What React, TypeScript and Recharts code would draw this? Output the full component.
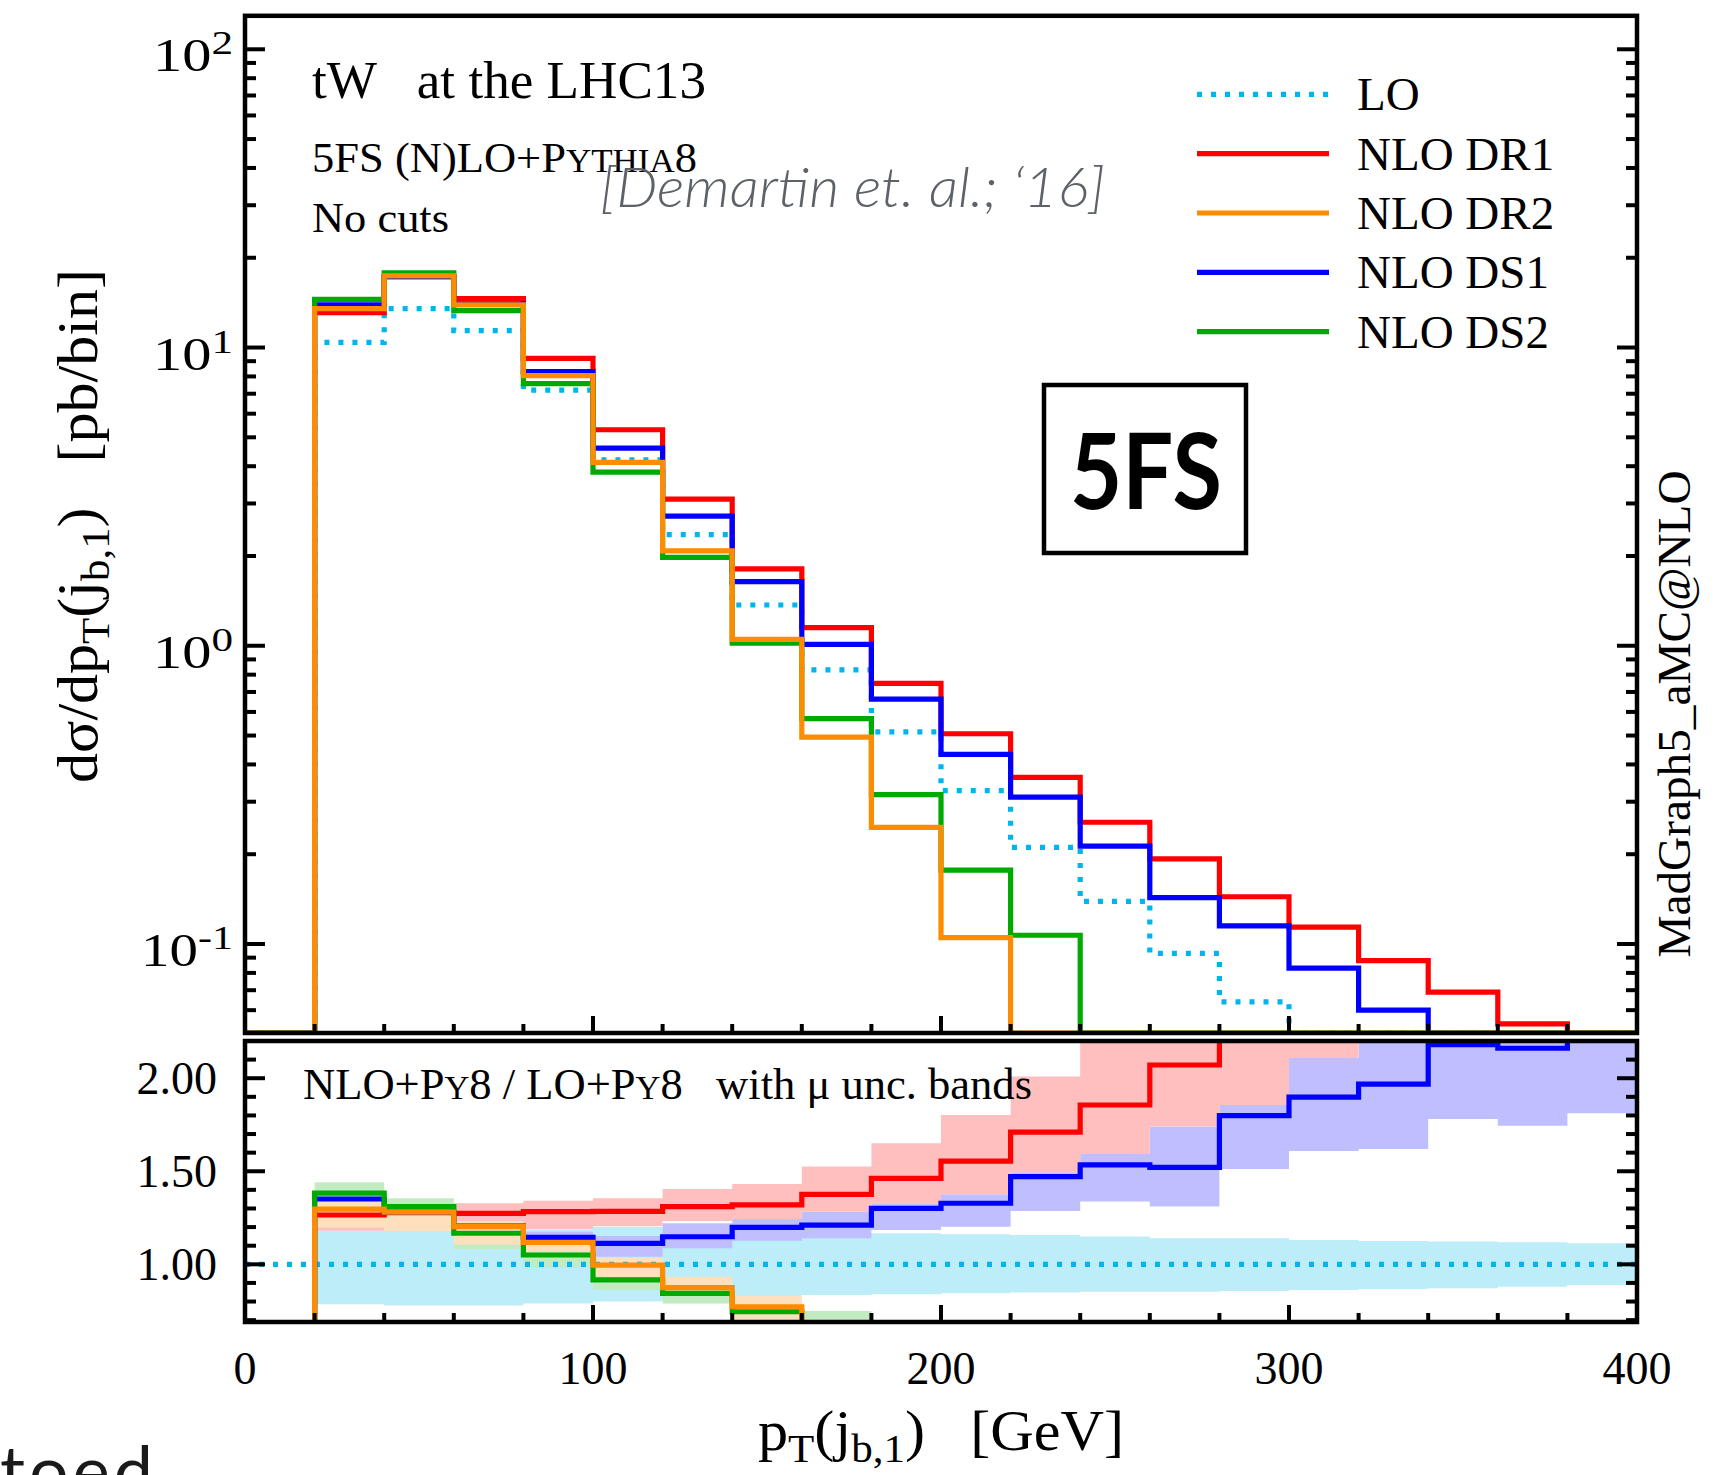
import React from "react";
import { ComposedChart, Line, Area, XAxis, YAxis } from "recharts";

const W = 1716;
const H = 1475;

// frame edges on the page
const LEFT = 245;
const RIGHT = 1637;
const MAIN_TOP = 15.8;
const MAIN_BOTTOM = 1033;
const RATIO_TOP = 1041;
const RATIO_BOTTOM = 1322;
const PLOT_W = RIGHT - LEFT;

const Y_MIN = 0.0503;
const Y_MAX = 129.5;
const R_MIN = 0.69;
const R_MAX = 2.2;
const X_END = 400;

const SERIF = '"Liberation Serif", "Times New Roman", serif';
const SANS = 'Lato, "Open Sans", sans-serif';
const GAP = "\u00a0\u00a0\u00a0";

// left edges of the 20 GeV bins
const BIN_EDGES = [0, 20, 40, 60, 80, 100, 120, 140, 160, 180, 200, 220, 240, 260, 280, 300, 320, 340, 360, 380];

// dsigma/dpT [pb/bin]
const XS_LO = [0, 10.4, 13.5, 11.4, 7.2, 4.2, 2.36, 1.37, 0.83, 0.514, 0.327, 0.211, 0.139, 0.093, 0.064, 0.044, 0.031, 0.022, 0.016, 0.011];
const XS_DR1 = [0, 13.1, 17.3, 14.6, 9.2, 5.3, 3.1, 1.81, 1.15, 0.748, 0.507, 0.362, 0.256, 0.193, 0.144, 0.114, 0.088, 0.069, 0.054, 0];
const XS_DR2 = [0, 13.5, 17.4, 13.9, 8.05, 4.12, 2.08, 1.05, 0.494, 0.246, 0.105, 0, 0, 0, 0, 0, 0, 0, 0, 0];
const XS_DS1 = [0, 13.9, 17.3, 14.0, 8.3, 4.6, 2.72, 1.64, 1.01, 0.662, 0.432, 0.311, 0.213, 0.143, 0.115, 0.083, 0.06, 0.047, 0.035, 0.027];
const XS_DS2 = [0, 14.5, 17.8, 13.3, 7.57, 3.82, 1.98, 1.02, 0.57, 0.317, 0.177, 0.107, 0, 0, 0, 0, 0, 0, 0, 0];

// ratio to LO
const RATIO_LO = [1, 1, 1, 1, 1, 1, 1, 1, 1, 1, 1, 1, 1, 1, 1, 1, 1, 1, 1, 1];
const RATIO_DR1 = [0, 1.265, 1.278, 1.274, 1.283, 1.285, 1.31, 1.319, 1.376, 1.462, 1.555, 1.71, 1.856, 2.071, 2.25, 2.6, 2.85, 3.1, 3.4, 3.6];
const RATIO_DR2 = [0, 1.297, 1.28, 1.202, 1.118, 0.996, 0.875, 0.772, 0.595, 0.48, 0.32, 0, 0, 0, 0, 0, 0, 0, 0, 0];
const RATIO_DS1 = [0, 1.351, 1.28, 1.205, 1.145, 1.113, 1.148, 1.199, 1.211, 1.301, 1.328, 1.471, 1.534, 1.521, 1.799, 1.898, 1.968, 2.18, 2.161, 2.5];
const RATIO_DS2 = [0, 1.382, 1.31, 1.167, 1.05, 0.916, 0.844, 0.745, 0.68, 0.62, 0.54, 0.51, 0, 0, 0, 0, 0, 0, 0, 0];

// scale uncertainty bands (low / high)
const BAND_LO_LOW = [0, 0.785, 0.778, 0.778, 0.79, 0.8, 0.808, 0.825, 0.835, 0.839, 0.844, 0.849, 0.853, 0.853, 0.857, 0.862, 0.867, 0.871, 0.88, 0.889];
const BAND_LO_HIGH = [0, 1.18, 1.18, 1.185, 1.188, 1.2, 1.19, 1.175, 1.17, 1.167, 1.161, 1.158, 1.149, 1.14, 1.14, 1.131, 1.125, 1.122, 1.118, 1.113];
const BAND_DR1_LOW = [0, 1.18, 1.19, 1.2, 1.19, 1.205, 1.233, 1.243, 1.283, 1.328, 1.376, 1.495, 1.593, 1.74, 1.856, 2.108, 2.3, 2.5, 2.7, 2.9];
const BAND_DR1_HIGH = [0, 1.35, 1.34, 1.328, 1.342, 1.355, 1.405, 1.432, 1.525, 1.651, 1.803, 2.009, 2.35, 2.5, 2.7, 2.9, 3.2, 3.5, 3.8, 4.0];
const BAND_DS1_LOW = [0, 1.2, 1.2, 1.15, 1.08, 1.041, 1.086, 1.127, 1.14, 1.184, 1.202, 1.287, 1.337, 1.31, 1.512, 1.609, 1.62, 1.781, 1.745, 1.812];
const BAND_DS1_HIGH = [0, 1.38, 1.33, 1.23, 1.175, 1.152, 1.22, 1.243, 1.283, 1.328, 1.376, 1.495, 1.593, 1.74, 1.856, 2.108, 2.3, 2.5, 2.7, 2.9];
const BAND_DS2_LOW = [0, 1.3, 1.26, 1.082, 0.982, 0.862, 0.79, 0.68, 0.62, 0.5, 0.4, 0.35, 0, 0, 0, 0, 0, 0, 0, 0];
const BAND_DS2_HIGH = [0, 1.441, 1.355, 1.22, 1.12, 0.98, 0.88, 0.79, 0.749, 0.68, 0.66, 0.64, 0, 0, 0, 0, 0, 0, 0, 0];
const BAND_DR2_LOW = [0, 1.197, 1.179, 1.107, 1.068, 0.933, 0.86, 0.7, 0.5, 0.4, 0.2, 0, 0, 0, 0, 0, 0, 0, 0, 0];
const BAND_DR2_HIGH = [0, 1.337, 1.3, 1.233, 1.14, 1.036, 0.933, 0.831, 0.66, 0.6, 0.45, 0, 0, 0, 0, 0, 0, 0, 0, 0];

const X_TICKS = [0, 20, 40, 60, 80, 100, 120, 140, 160, 180, 200, 220, 240, 260, 280, 300, 320, 340, 360, 380, 400];
const LOG_TICKS = [0.06, 0.07, 0.08, 0.09, 0.1, 0.2, 0.3, 0.4, 0.5, 0.6, 0.7, 0.8, 0.9, 1, 2, 3, 4, 5, 6, 7, 8, 9, 10, 20, 30, 40, 50, 60, 70, 80, 90, 100];
const R_TICKS = [0.7, 0.8, 0.9, 1.0, 1.1, 1.2, 1.3, 1.4, 1.5, 1.6, 1.7, 1.8, 1.9, 2.0, 2.1];
const R_LABELS = [1.0, 1.5, 2.0];

type Series = {
  key: string;
  name: string;
  color: string;
  band: string;
  dash?: string;
  xs: number[];
  ratio: number[];
  low: number[];
  high: number[];
};

const SERIES: Series[] = [
  { key: "lo", name: "LO", color: "#00b4ec", band: "#bdedf9", dash: "5 9", xs: XS_LO, ratio: RATIO_LO, low: BAND_LO_LOW, high: BAND_LO_HIGH },
  { key: "dr1", name: "NLO DR1", color: "#ff0000", band: "#ffbfbf", xs: XS_DR1, ratio: RATIO_DR1, low: BAND_DR1_LOW, high: BAND_DR1_HIGH },
  { key: "dr2", name: "NLO DR2", color: "#ff8c00", band: "#fee0bf", xs: XS_DR2, ratio: RATIO_DR2, low: BAND_DR2_LOW, high: BAND_DR2_HIGH },
  { key: "ds1", name: "NLO DS1", color: "#0000ff", band: "#bfbfff", xs: XS_DS1, ratio: RATIO_DS1, low: BAND_DS1_LOW, high: BAND_DS1_HIGH },
  { key: "ds2", name: "NLO DS2", color: "#00aa00", band: "#c2ebc2", xs: XS_DS2, ratio: RATIO_DS2, low: BAND_DS2_LOW, high: BAND_DS2_HIGH },
];

const LINE_ORDER = ["lo", "dr1", "ds1", "ds2", "dr2"];
const BAND_ORDER = ["lo", "ds1", "dr1", "ds2", "dr2"];
const byKey = (k: string) => SERIES.find((s) => s.key === k)!;
const LINE_W = 5.2;

// step rows: one point per bin edge, last bin repeated at the end
const STEP_X = [...BIN_EDGES, X_END];
const binOf = (i: number) => Math.min(i, BIN_EDGES.length - 1);

const mainRows = STEP_X.map((x, i) => {
  const row: Record<string, number> = { x };
  SERIES.forEach((s) => {
    row[s.key] = Math.max(s.xs[binOf(i)], Y_MIN);
  });
  return row;
});

const ratioRows = STEP_X.map((x, i) => {
  const row: Record<string, number | number[]> = { x };
  SERIES.forEach((s) => {
    row[s.key] = s.ratio[binOf(i)];
    row[s.key + "Band"] = [s.low[binOf(i)], s.high[binOf(i)]];
  });
  return row;
});

const TICK = { stroke: "#000", strokeWidth: 4 };

function MainXTick(p: any) {
  const v = p.payload.value;
  const len = v % 100 === 0 ? 17 : 9;
  return <line x1={p.x} x2={p.x} y1={MAIN_BOTTOM} y2={MAIN_BOTTOM - len} {...TICK} />;
}

function RatioXTick(p: any) {
  const v = p.payload.value;
  const major = v % 100 === 0;
  const len = major ? 17 : 9;
  return (
    <g>
      <line x1={p.x} x2={p.x} y1={RATIO_BOTTOM} y2={RATIO_BOTTOM - len} {...TICK} />
      {major && (
        <text x={p.x} y={1384} textAnchor="middle" fontFamily={SERIF} fontSize={46} fill="#000">
          {v}
        </text>
      )}
    </g>
  );
}

function MainYTick(p: any) {
  const v: number = p.payload.value;
  const e = Math.log10(v);
  const major = Math.abs(e - Math.round(e)) < 1e-6;
  const len = major ? 20 : 11;
  const exp = Math.round(e);
  return (
    <g>
      <line x1={LEFT} x2={LEFT + len} y1={p.y} y2={p.y} {...TICK} />
      <line x1={RIGHT} x2={RIGHT - len} y1={p.y} y2={p.y} {...TICK} />
      {major && (
        <text
          x={exp < 0 ? 141 : 153}
          y={p.y + 22}
          fontFamily={SERIF}
          fontSize={46}
          fill="#000"
          textLength={exp < 0 ? 92 : 80}
          lengthAdjust="spacingAndGlyphs"
        >
          10
          <tspan dy={-17} fontSize={34}>
            {exp}
          </tspan>
        </text>
      )}
    </g>
  );
}

function RatioYTick(p: any) {
  const v: number = p.payload.value;
  const major = R_LABELS.some((m) => Math.abs(m - v) < 1e-6);
  const len = major ? 20 : 11;
  return (
    <g>
      <line x1={LEFT} x2={LEFT + len} y1={p.y} y2={p.y} {...TICK} />
      <line x1={RIGHT} x2={RIGHT - len} y1={p.y} y2={p.y} {...TICK} />
      {major && (
        <text x={217} y={p.y + 16} textAnchor="end" fontFamily={SERIF} fontSize={46} fill="#000">
          {v.toFixed(2)}
        </text>
      )}
    </g>
  );
}

function MainChart() {
  return (
    <ComposedChart
      width={W}
      height={H}
      data={mainRows}
      margin={{ top: MAIN_TOP, right: W - RIGHT, bottom: H - MAIN_BOTTOM, left: LEFT }}
    >
      <XAxis
        type="number"
        dataKey="x"
        domain={[0, X_END]}
        ticks={X_TICKS}
        interval={0}
        mirror
        axisLine={false}
        tickLine={false}
        tick={(p: any) => <MainXTick {...p} />}
        allowDataOverflow
      />
      <YAxis
        type="number"
        scale="log"
        domain={[Y_MIN, Y_MAX]}
        ticks={LOG_TICKS}
        interval={0}
        mirror
        axisLine={false}
        tickLine={false}
        tick={(p: any) => <MainYTick {...p} />}
        allowDataOverflow
      />
      {LINE_ORDER.map(byKey).map((s) => (
        <Line
          key={s.key}
          type="stepAfter"
          dataKey={s.key}
          stroke={s.color}
          strokeWidth={LINE_W}
          strokeDasharray={s.dash}
          strokeLinejoin="miter"
          dot={false}
          activeDot={false}
          isAnimationActive={false}
        />
      ))}
    </ComposedChart>
  );
}

function RatioChart() {
  return (
    <ComposedChart
      width={W}
      height={H}
      data={ratioRows}
      margin={{ top: RATIO_TOP, right: W - RIGHT, bottom: H - RATIO_BOTTOM, left: LEFT }}
    >
      <XAxis
        type="number"
        dataKey="x"
        domain={[0, X_END]}
        ticks={X_TICKS}
        interval={0}
        mirror
        axisLine={false}
        tickLine={false}
        tick={(p: any) => <RatioXTick {...p} />}
        allowDataOverflow
      />
      <YAxis
        type="number"
        domain={[R_MIN, R_MAX]}
        ticks={R_TICKS}
        interval={0}
        mirror
        axisLine={false}
        tickLine={false}
        tick={(p: any) => <RatioYTick {...p} />}
        allowDataOverflow
      />
      {BAND_ORDER.map(byKey).map((s) => (
        <Area
          key={s.key + "Band"}
          type="stepAfter"
          dataKey={s.key + "Band"}
          fill={s.band}
          fillOpacity={1}
          stroke="none"
          dot={false}
          activeDot={false}
          isAnimationActive={false}
        />
      ))}
      {LINE_ORDER.map(byKey).map((s) => (
        <Line
          key={s.key}
          type="stepAfter"
          dataKey={s.key}
          stroke={s.color}
          strokeWidth={LINE_W}
          strokeDasharray={s.dash}
          strokeLinejoin="miter"
          dot={false}
          activeDot={false}
          isAnimationActive={false}
        />
      ))}
    </ComposedChart>
  );
}

function Overlay() {
  const legendY0 = 94.3;
  const legendDy = 59.35;
  return (
    <svg width={W} height={H} style={{ position: "absolute", left: 0, top: 0, pointerEvents: "none" }}>
      {/* frames */}
      <rect x={LEFT} y={MAIN_TOP} width={PLOT_W} height={MAIN_BOTTOM - MAIN_TOP} fill="none" stroke="#000" strokeWidth={4.5} />
      <rect x={LEFT} y={RATIO_TOP} width={PLOT_W} height={RATIO_BOTTOM - RATIO_TOP} fill="none" stroke="#000" strokeWidth={4.5} />

      <g fontFamily={SERIF} fill="#000">
        <text x={312} y={98} fontSize={53} textLength={394} lengthAdjust="spacingAndGlyphs">
          {"tW" + GAP + "at the LHC13"}
        </text>
        <text x={312} y={172} fontSize={42} textLength={385} lengthAdjust="spacingAndGlyphs">
          {"5FS (N)LO+P"}
          <tspan fontSize={33}>YTHIA</tspan>
          {"8"}
        </text>
        <text x={312} y={232} fontSize={42} textLength={137} lengthAdjust="spacingAndGlyphs">
          No cuts
        </text>
        <text x={303} y={1099} fontSize={44} textLength={729} lengthAdjust="spacingAndGlyphs">
          {"NLO+P"}
          <tspan fontSize={34}>Y</tspan>
          {"8 / LO+P"}
          <tspan fontSize={34}>Y</tspan>
          {"8" + GAP + "with μ unc. bands"}
        </text>

        {/* axis titles */}
        <text transform="translate(97, 526) rotate(-90)" textAnchor="middle" fontSize={56} textLength={514} lengthAdjust="spacingAndGlyphs">
          {"dσ/dp"}
          <tspan fontSize={40} dy={12}>T</tspan>
          <tspan dy={-12}>(j</tspan>
          <tspan fontSize={40} dy={12}>b,1</tspan>
          <tspan dy={-12}>{")" + GAP + "[pb/bin]"}</tspan>
        </text>
        <text x={941} y={1450} textAnchor="middle" fontSize={56} textLength={366} lengthAdjust="spacingAndGlyphs">
          {"p"}
          <tspan fontSize={40} dy={12}>T</tspan>
          <tspan dy={-12}>(j</tspan>
          <tspan fontSize={40} dy={12}>b,1</tspan>
          <tspan dy={-12}>{")" + GAP + "[GeV]"}</tspan>
        </text>
        <text transform="translate(1690, 714) rotate(-90)" textAnchor="middle" fontSize={46} textLength={487} lengthAdjust="spacingAndGlyphs">
          MadGraph5_aMC@NLO
        </text>

        {/* legend */}
        {SERIES.map((s, i) => {
          const y = legendY0 + i * legendDy;
          return (
            <g key={s.key}>
              <line x1={1197} x2={1329} y1={y} y2={y} stroke={s.color} strokeWidth={LINE_W} strokeDasharray={s.dash} />
              <text x={1357} y={y + 16} fontSize={47}>
                {s.name}
              </text>
            </g>
          );
        })}
      </g>

      <text x={600} y={207} fontFamily={SANS} fontStyle="italic" fontWeight={300} fontSize={56} fill="#5d6268" textLength={505} lengthAdjust="spacingAndGlyphs">
        [Demartin et. al.; ‘16]
      </text>

      <rect x={1044} y={385} width={202} height={168} fill="none" stroke="#000" strokeWidth={4.5} />
      <text x={1070} y={509} fontFamily={SANS} fontWeight={700} fontSize={106} fill="#000" textLength={152} lengthAdjust="spacingAndGlyphs">
        5FS
      </text>

      <text x={0} y={1496} fontFamily={SANS} fontWeight={400} fontSize={70} fill="#1a1a1a" textLength={153} lengthAdjust="spacing">
        toed
      </text>
    </svg>
  );
}

export default function App() {
  return (
    <div style={{ position: "absolute", left: 0, top: 0, width: W, height: H, overflow: "hidden", background: "#fff" }}>
      <div style={{ position: "absolute", left: 0, top: 0 }}>
        <MainChart />
      </div>
      <div style={{ position: "absolute", left: 0, top: 0 }}>
        <RatioChart />
      </div>
      <Overlay />
    </div>
  );
}
